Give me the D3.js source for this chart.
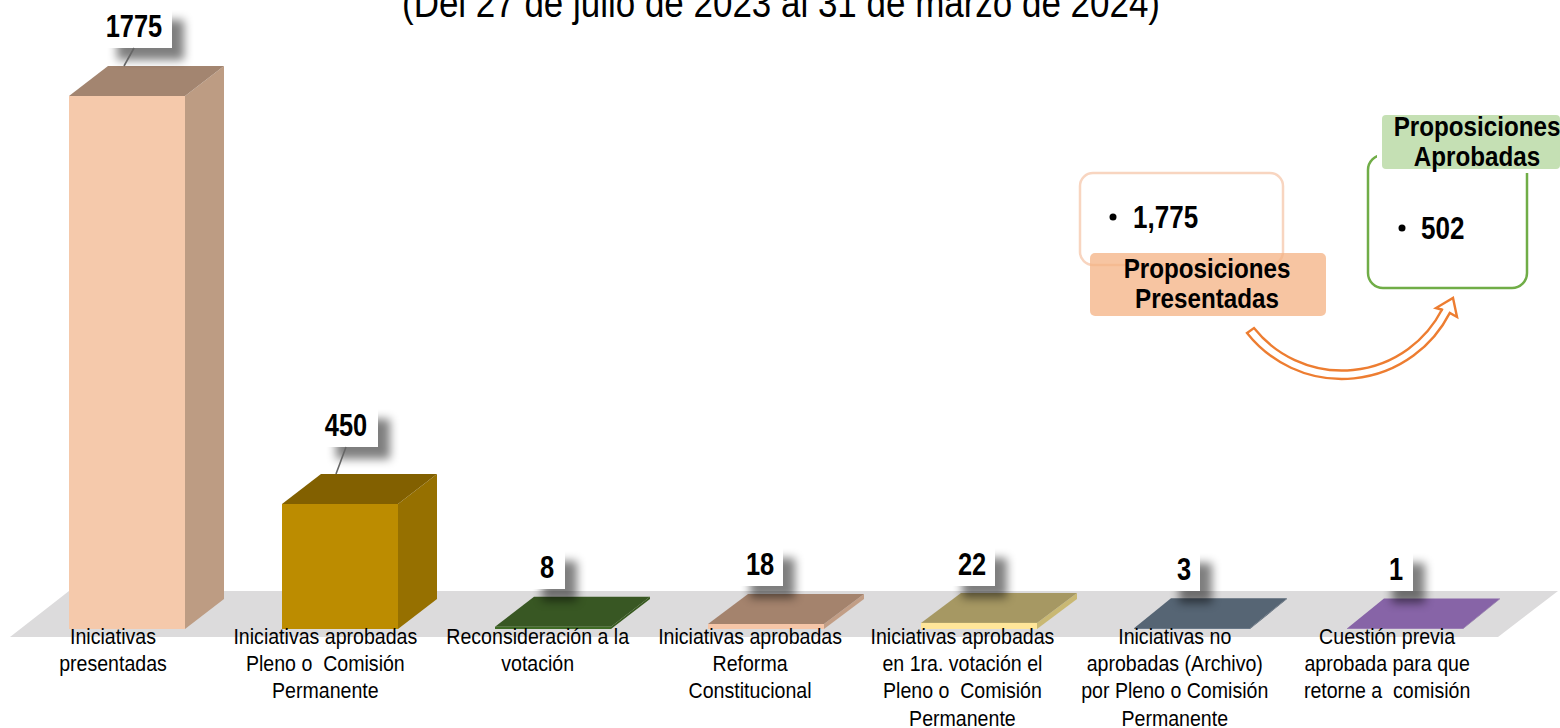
<!DOCTYPE html>
<html><head><meta charset="utf-8">
<script src="https://cdn.jsdelivr.net/npm/d3@7"></script>
<style>
html,body{margin:0;padding:0;background:#fff;overflow:hidden}
svg{display:block}
text{font-family:"Liberation Sans",Arial,sans-serif;fill:#000}
</style></head><body>
<div id="c"></div>
<script>
// ---- data ----
const titleText = "(Del 27 de julio de 2023 al 31 de marzo de 2024)";
const categories = [
  ["Iniciativas","presentadas"],
  ["Iniciativas aprobadas","Pleno o  Comisión","Permanente"],
  ["Reconsideración a la","votación"],
  ["Iniciativas aprobadas","Reforma","Constitucional"],
  ["Iniciativas aprobadas","en 1ra. votación el","Pleno o  Comisión","Permanente"],
  ["Iniciativas no","aprobadas (Archivo)","por Pleno o Comisión","Permanente"],
  ["Cuestión previa","aprobada para que","retorne a  comisión"]
];
const values = [1775,450,8,18,22,3,1];
const frontColors = ["#f5c9ab","#bc8c00","#3f6b25","#f6c6a8","#ffe699","#5a6a7c","#8a66aa"];
const sideColors  = ["#bd9c83","#967000","#37591f","#c29e86","#c9b873","#4d5c6c","#755a91"];
const topColors   = ["#a38570","#826000","#385723","#a4836d","#a69863","#566574","#8764a7"];
const presentedHead = ["Proposiciones","Presentadas"];
const presentedValue = "1,775";
const approvedHead = ["Proposiciones","Aprobadas"];
const approvedValue = "502";

// ---- layout ----
const W=1560,H=728, baseY=629, depthY=30;
const depthXs=[39,39,39,40,40,37,37];
const svg=d3.select("#c").append("svg").attr("width",W).attr("height",H);
const defs=svg.append("defs");
defs.append("filter").attr("id","blur").attr("x","-50%").attr("y","-50%").attr("width","200%").attr("height","200%")
  .append("feGaussianBlur").attr("stdDeviation",5);

const x=d3.scaleBand().domain(d3.range(values.length)).range([69,69+213*7-97]).paddingInner(97/213).paddingOuter(0);
// the picture's height axis is not quite uniform: piecewise scale
const h=d3.scaleLinear().domain([0,450,1775]).range([0,125,533]);
const poly=p=>d3.line()(p)+"Z";

// floor
svg.append("path").attr("d",poly([[10,637],[1498,637],[1558,591],[69,591]])).attr("fill","#dcdbdc");

// bars
const bars=svg.append("g").selectAll("g").data(values).join("g");
bars.each(function(v,i){
  const g=d3.select(this),l=x(i),r=l+x.bandwidth(),t=baseY-Math.max(h(v),0.6),dx=depthXs[i];
  g.append("path").attr("d",poly([[r,t],[r+dx,t-depthY],[r+dx,baseY-depthY],[r,baseY]])).attr("fill",sideColors[i]);
  g.append("path").attr("d",poly([[l,t],[r,t],[r+dx,t-depthY],[l+dx,t-depthY]])).attr("fill",topColors[i]);
  g.append("rect").attr("x",l).attr("y",t).attr("width",x.bandwidth()).attr("height",baseY-t).attr("fill",frontColors[i]);
});

// value call-outs
const boxL=[36,42,35,30,29,33,33], boxR=[103,96,70,75,74,66,66], boxB=[-48,-57,null,null,null,null,null];
const boxBottomLow=[null,null,589,586,586,591,591], textOff=[65,64,52,52,51,50,49];
const shOff=12, boxH=40;
const co=svg.append("g");
values.forEach((v,i)=>{
  const l=x(i), b=boxB[i]!==null? baseY-h(v)+boxB[i] : boxBottomLow[i];
  const bl=l+boxL[i], br=l+boxR[i];
  co.append("rect").attr("x",bl+shOff).attr("y",b-boxH+shOff).attr("width",br-bl).attr("height",boxH)
    .attr("fill","#000").attr("opacity",.5).attr("filter","url(#blur)");
});
values.forEach((v,i)=>{
  const l=x(i), b=boxB[i]!==null? baseY-h(v)+boxB[i] : boxBottomLow[i];
  const bl=l+boxL[i], br=l+boxR[i];
  co.append("rect").attr("x",bl).attr("y",b-boxH).attr("width",br-bl).attr("height",boxH).attr("fill","#fff");
  if(boxB[i]!==null){
    const top=baseY-h(v)-depthY;
    co.append("line").attr("x1",l+textOff[i]).attr("y1",b).attr("x2",l+textOff[i]-10).attr("y2",top)
      .attr("stroke","#666").attr("stroke-width",1.6);
  }
  co.append("text").attr("transform",`translate(${l+textOff[i]},${b-11.5}) scale(.82,1)`)
    .attr("text-anchor","middle").attr("font-size",31).attr("font-weight",700).text(v);
});

// category labels
const labs=svg.append("g");
categories.forEach((lines,i)=>{
  lines.forEach((s,j)=>{
    labs.append("text").attr("xml:space","preserve").style("white-space","pre")
      .attr("transform",`translate(${x(i)+x.bandwidth()/2-14-i*0.65},${644+27.2*j}) scale(.89,1)`)
      .attr("text-anchor","middle").attr("font-size",22).text(s);
  });
});

// title
svg.append("text").attr("x",781).attr("y",17).attr("text-anchor","middle").attr("font-size",40)
  .attr("textLength",758).attr("lengthAdjust","spacingAndGlyphs").text(titleText);

// right-hand diagram
const d=svg.append("g");
const head=(lines,cx,ys)=>lines.forEach((s,j)=>d.append("text")
  .attr("transform",`translate(${cx},${ys[j]}) scale(.88,1)`).attr("text-anchor","middle")
  .attr("font-size",27.5).attr("font-weight",700).text(s));
const bullet=(txt,bx,tx,y)=>{
  d.append("circle").attr("cx",bx).attr("cy",y-11).attr("r",3.5).attr("fill","#000");
  d.append("text").attr("transform",`translate(${tx},${y}) scale(.84,1)`).attr("font-size",31).attr("font-weight",700).text(txt);
};
d.append("rect").attr("x",1080).attr("y",173).attr("width",203).attr("height",92).attr("rx",13)
  .attr("fill","#fff").attr("stroke","#f8d5c0").attr("stroke-width",2.5);
d.append("rect").attr("x",1090).attr("y",253).attr("width",236).attr("height",63).attr("rx",5)
  .attr("fill","#f4b183").attr("fill-opacity",.75);
head(presentedHead,1207,[278,308]);
bullet(presentedValue,1113,1133,228);

d.append("rect").attr("x",1368).attr("y",155).attr("width",159).attr("height",133).attr("rx",15)
  .attr("fill","#fff").attr("stroke","#70ad47").attr("stroke-width",2.5);
d.append("rect").attr("x",1377).attr("y",111).attr("width",183).attr("height",62).attr("fill","#fff");
d.append("rect").attr("x",1382).attr("y",115).attr("width",178).attr("height",54).attr("rx",4).attr("fill","#c5e0b4");
head(approvedHead,1477,[136,166]);
bullet(approvedValue,1402,1421,239);

// curved arrow: two concentric arcs and a head
const cx=1342, cy=258, rOut=121, rIn=112.5;
const ang=(px,py)=>Math.atan2(py-cy,px-cx);
const ap=d3.path();
ap.arc(cx,cy,rOut,ang(1247,333),ang(1450,313),true);
ap.lineTo(1457,317);ap.lineTo(1453,298);ap.lineTo(1436,308);ap.lineTo(1443,310);
ap.arc(cx,cy,rIn,ang(1443,310),ang(1254,328),false);
ap.closePath();
d.append("path").attr("d",ap.toString()).attr("fill","#fff").attr("stroke","#ed7d31").attr("stroke-width",2.4).attr("stroke-linejoin","miter");
</script>
</body></html>
